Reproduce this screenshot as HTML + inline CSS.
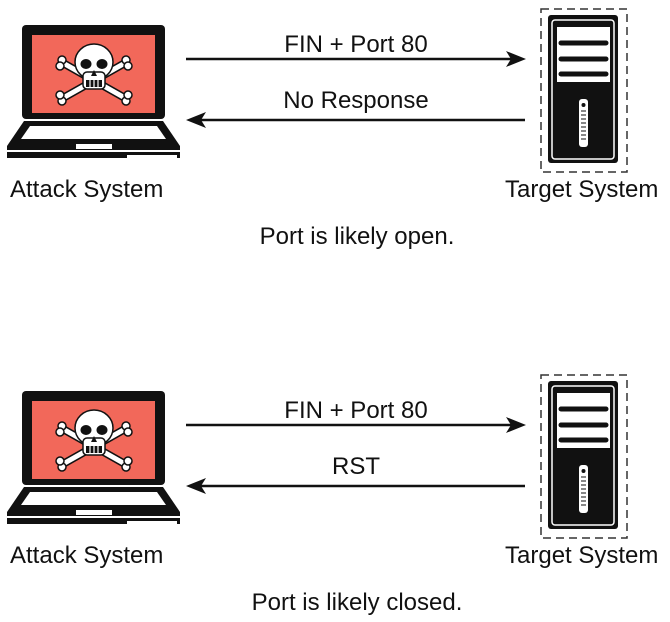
<!DOCTYPE html>
<html><head><style>body{margin:0;background:#fff}svg{display:block}text{font-family:"Liberation Sans",Arial,sans-serif;font-size:24px;fill:#111}</style></head>
<body>
<svg width="670" height="622" viewBox="0 0 670 622" xmlns="http://www.w3.org/2000/svg">
<defs>
<g id="laptop">
<rect x="22" y="25" width="143" height="94" rx="4" fill="#111"/>
<rect x="32" y="35" width="123" height="78" fill="#f2685a"/>
<polygon points="24,121 163,121 180,146 180,158 7,158 7,146" fill="#111"/>
<polygon points="30,126 157,126 166,139 21,139" fill="#fff"/>
<rect x="76" y="144" width="36" height="5" fill="#fff"/>
<rect x="127" y="155" width="50" height="3" fill="#fff"/>
<rect x="7" y="150" width="173" height="2" fill="#fff"/>
<g stroke="#111" stroke-width="1.5" fill="#fff">
<line x1="63" y1="63" x2="125" y2="98" stroke="#111" stroke-width="8"/>
<line x1="125" y1="63" x2="63" y2="98" stroke="#111" stroke-width="8"/>
<line x1="63" y1="63" x2="125" y2="98" stroke="#fff" stroke-width="5"/>
<line x1="125" y1="63" x2="63" y2="98" stroke="#fff" stroke-width="5"/>
<circle cx="62" cy="60" r="4"/><circle cx="60" cy="66" r="4"/>
<circle cx="126" cy="60" r="4"/><circle cx="128" cy="66" r="4"/>
<circle cx="62" cy="101" r="4"/><circle cx="60" cy="95" r="4"/>
<circle cx="126" cy="101" r="4"/><circle cx="128" cy="95" r="4"/>
<ellipse cx="94" cy="62" rx="19" ry="18"/>
<rect x="83" y="72" width="22" height="17" rx="4"/>
</g>
<ellipse cx="86" cy="64" rx="5.5" ry="5" fill="#111"/>
<ellipse cx="102" cy="64" rx="5.5" ry="5" fill="#111"/>
<polygon points="94,70 91,76 97,76" fill="#111"/>
<rect x="86" y="80" width="16" height="7" fill="#111"/>
<g stroke="#fff" stroke-width="1.2"><line x1="90" y1="80" x2="90" y2="87"/><line x1="94" y1="80" x2="94" y2="87"/><line x1="98" y1="80" x2="98" y2="87"/></g>
</g>
<g id="server">
<rect x="541" y="9" width="86" height="163" fill="none" stroke="#333" stroke-width="1.5" stroke-dasharray="8,5"/>
<rect x="548" y="15" width="70" height="148" rx="3" fill="#111"/>
<rect x="552" y="20" width="62" height="139" rx="3" fill="none" stroke="#fff" stroke-width="1.5"/>
<rect x="557" y="27" width="53" height="55" fill="#fff"/>
<g stroke="#111" stroke-width="5" stroke-linecap="round"><line x1="561" y1="43" x2="606" y2="43"/><line x1="561" y1="59" x2="606" y2="59"/><line x1="561" y1="74" x2="606" y2="74"/></g>
<rect x="579" y="99" width="9" height="48" rx="3" fill="#fff"/>
<circle cx="583.5" cy="105" r="2" fill="#111"/>
<g stroke="#111" stroke-width="1"><line x1="581" y1="111" x2="586" y2="111"/><line x1="581" y1="115" x2="586" y2="115"/><line x1="581" y1="119" x2="586" y2="119"/><line x1="581" y1="123" x2="586" y2="123"/><line x1="581" y1="127" x2="586" y2="127"/><line x1="581" y1="131" x2="586" y2="131"/><line x1="581" y1="135" x2="586" y2="135"/><line x1="581" y1="139" x2="586" y2="139"/></g>
</g>
<g id="arrows">
<line x1="186" y1="59" x2="512" y2="59" stroke="#111" stroke-width="2.5"/>
<polygon points="526,59 506,51 511,59 506,67" fill="#111"/>
<line x1="200" y1="120" x2="525" y2="120" stroke="#111" stroke-width="2.5"/>
<polygon points="186,120 206,112 201,120 206,128" fill="#111"/>
<text x="10" y="197">Attack System</text>
<text x="505" y="197">Target System</text>
</g>
</defs>
<use href="#laptop"/><use href="#server"/><use href="#arrows"/>
<text x="356" y="52" text-anchor="middle">FIN + Port 80</text>
<text x="356" y="108" text-anchor="middle">No Response</text>
<text x="357" y="244" text-anchor="middle">Port is likely open.</text>
<g transform="translate(0,366)"><use href="#laptop"/><use href="#server"/><use href="#arrows"/></g>
<text x="356" y="418" text-anchor="middle">FIN + Port 80</text>
<text x="356" y="474" text-anchor="middle">RST</text>
<text x="357" y="610" text-anchor="middle">Port is likely closed.</text>
</svg>
</body></html>
